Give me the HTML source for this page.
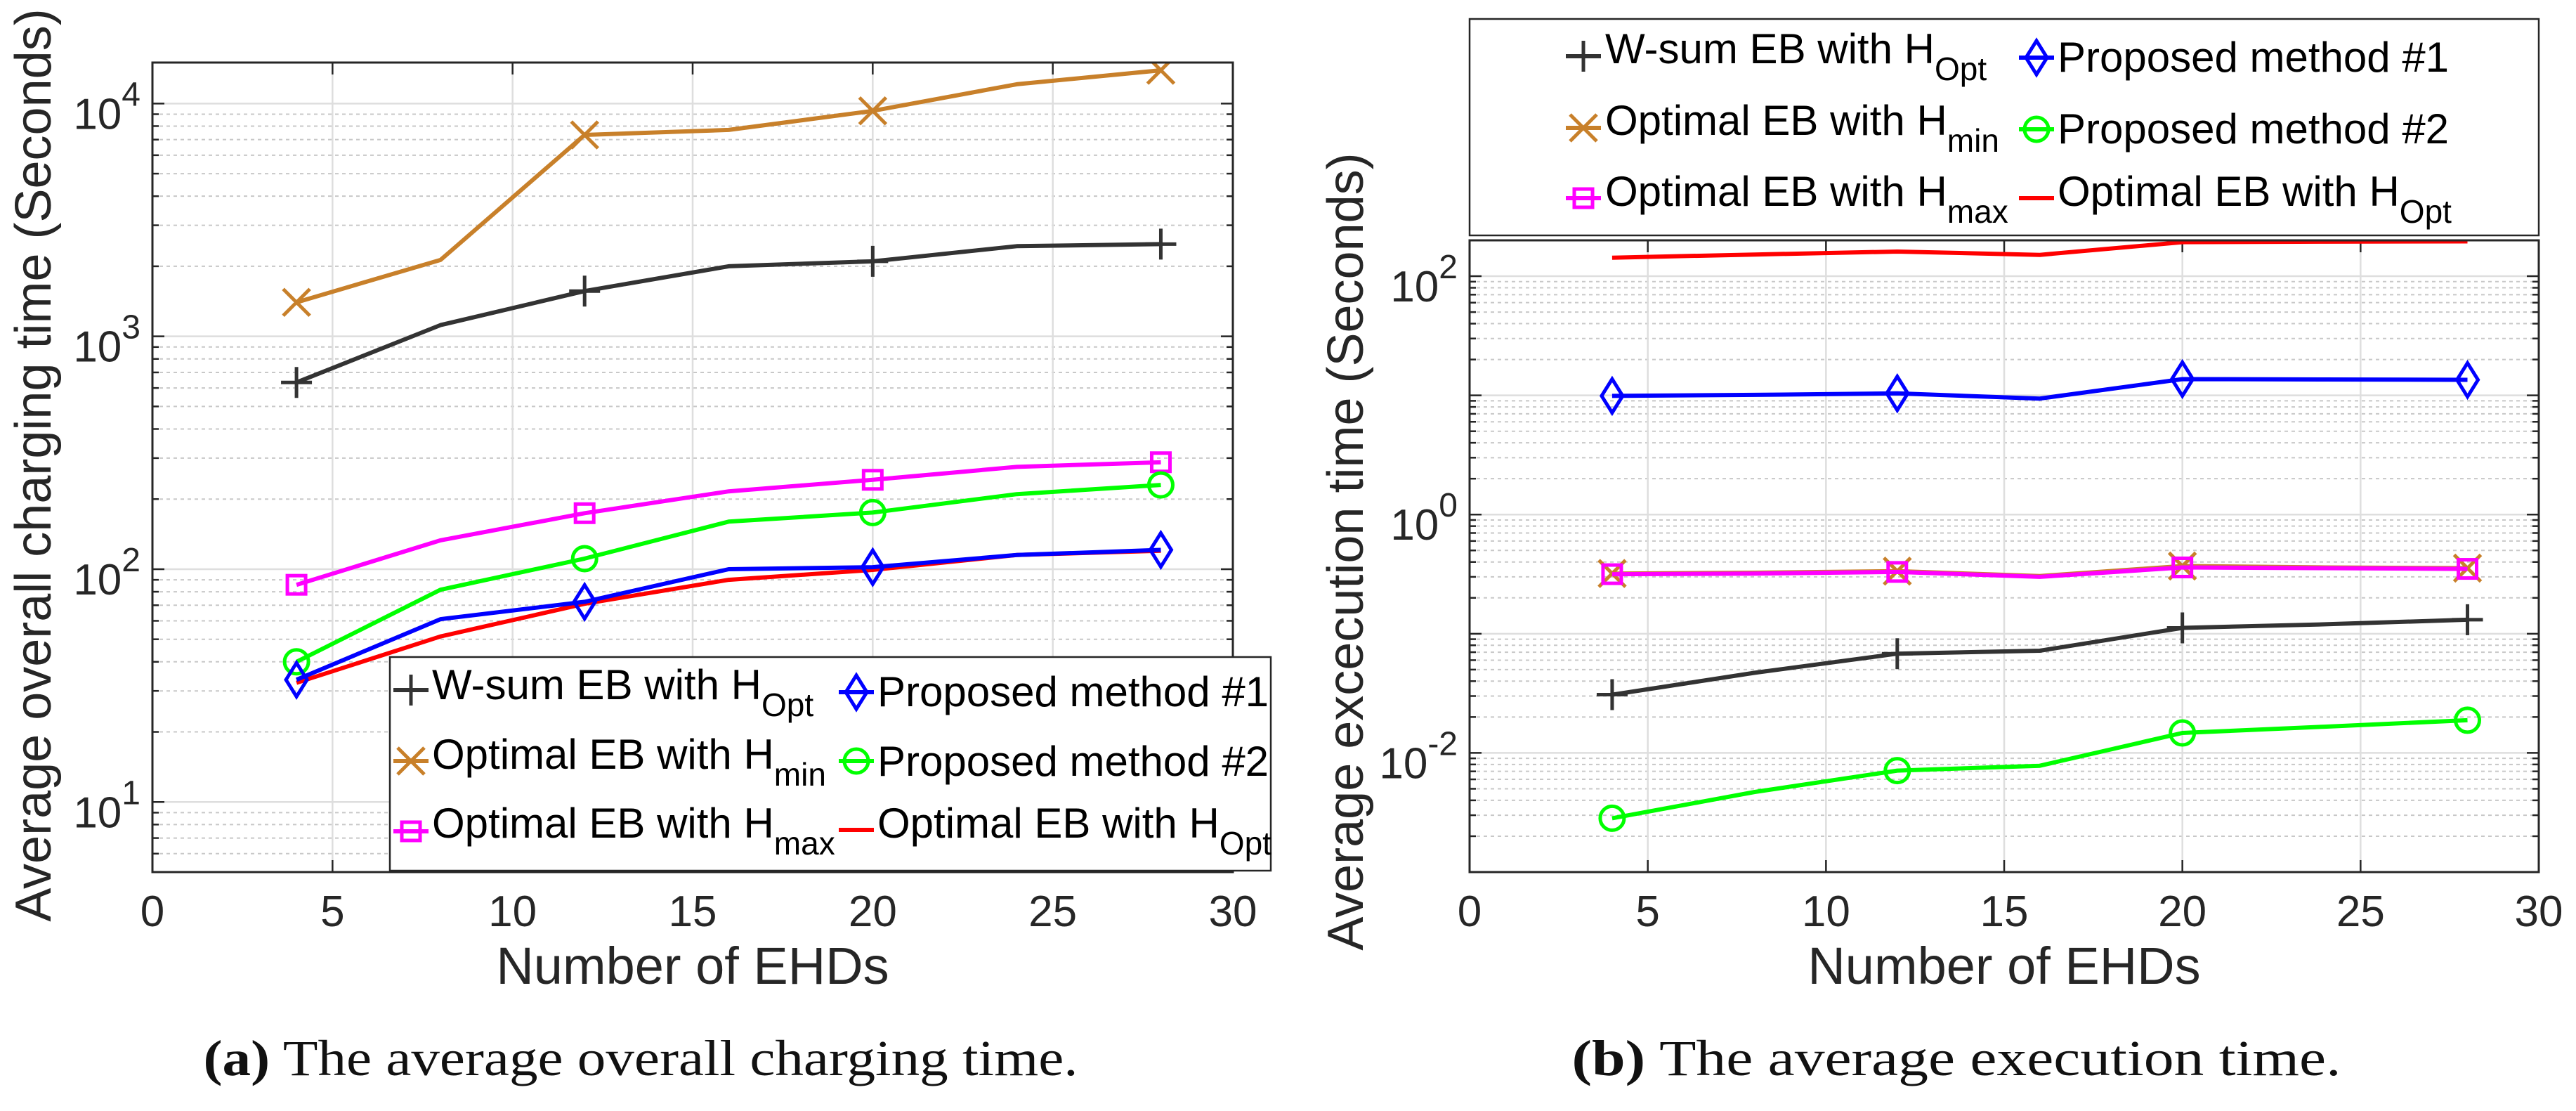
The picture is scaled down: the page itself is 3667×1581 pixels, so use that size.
<!DOCTYPE html>
<html><head><meta charset="utf-8">
<style>
html,body{margin:0;padding:0;background:#fff;}
svg{display:block;font-family:"Liberation Sans",sans-serif;}
</style></head>
<body>
<svg id="fig" width="3667" height="1581" viewBox="0 0 3667 1581" xmlns="http://www.w3.org/2000/svg"></svg>
<script>
const xValues = [4, 8, 12, 16, 20, 24, 28];
const xTicks = [0, 5, 10, 15, 20, 25, 30];
// Chart (a): average overall charging time
const aWsum = [634, 1118, 1565, 2000, 2100, 2440, 2490];
const aHmin = [1400, 2130, 7330, 7700, 9300, 12100, 13900];
const aHmax = [85.7, 133, 174, 216, 242, 275, 288];
const aProp1 = [33.5, 61, 72.4, 100, 102, 115, 121];
const aProp2 = [40, 81.6, 111, 160, 175, 210, 230];
const aHopt = [32.5, 51.4, 71, 90, 99.3, 115, 120];
const aDecades = [1, 2, 3, 4];
// Chart (b): average execution time
const bWsum = [0.0308, 0.047, 0.068, 0.072, 0.112, 0.12, 0.131];
const bHmin = [0.32, 0.325, 0.335, 0.305, 0.37, 0.36, 0.355];
const bHmax = [0.316, 0.32, 0.33, 0.30, 0.36, 0.355, 0.35];
const bProp1 = [9.9, 10.1, 10.4, 9.4, 13.7, 13.6, 13.5];
const bProp2 = [0.00283, 0.0047, 0.0071, 0.0078, 0.0147, 0.0166, 0.0188];
const bHopt = [143, 152, 161, 151, 193, 195, 196];
const bDecades = [-2, 0, 2];

const NS = "http://www.w3.org/2000/svg";
const svg = document.getElementById('fig');
function mk(tag, attrs, parent) {
  const e = document.createElementNS(NS, tag);
  for (const k in attrs) e.setAttribute(k, attrs[k]);
  (parent || svg).appendChild(e);
  return e;
}
const AX = '#262626';
const COL = {wsum:'#333333', hmin:'#c8802a', hmax:'#ff00ff', p1:'#0000ff', p2:'#00ff00', hopt:'#ff0000'};

function marker(g, type, cx, cy, color) {
  let e;
  if (type === 'plus') {
    e = mk('path', {d:`M${cx-22},${cy}H${cx+22}M${cx},${cy-22}V${cy+22}`, stroke:color, 'stroke-width':5, fill:'none'}, g);
  } else if (type === 'x') {
    e = mk('path', {d:`M${cx-19},${cy-19}L${cx+19},${cy+19}M${cx-19},${cy+19}L${cx+19},${cy-19}`, stroke:color, 'stroke-width':5, fill:'none'}, g);
  } else if (type === 'square') {
    e = mk('rect', {x:cx-13, y:cy-13, width:26, height:26, stroke:color, 'stroke-width':5, fill:'none'}, g);
  } else if (type === 'diamond') {
    e = mk('path', {d:`M${cx},${cy-24}L${cx+15},${cy}L${cx},${cy+24}L${cx-15},${cy}Z`, stroke:color, 'stroke-width':5, fill:'none'}, g);
  } else if (type === 'circle') {
    e = mk('circle', {cx:cx, cy:cy, r:17, stroke:color, 'stroke-width':5, fill:'none'}, g);
  }
  return e;
}

function buildChart(cfg) {
  const g = mk('g', {});
  
  
  const L = cfg.left, R = cfg.right, T = cfg.top, B = cfg.bottom;
  const lmin = Math.log10(cfg.ymin), lmax = Math.log10(cfg.ymax);
  const xs = v => L + (v - 0) / 30 * (R - L);
  const ys = v => B - (Math.log10(v) - lmin) / (lmax - lmin) * (B - T);

  // grid
  const grid = mk('g', {}, g);
  
  
  for (let d = Math.floor(lmin); d <= Math.ceil(lmax); d++) {
    for (let m = 1; m <= 9; m++) {
      const v = m * Math.pow(10, d);
      if (v < cfg.ymin * 0.999 || v > cfg.ymax * 1.001) continue;
      const y = ys(v);
      if (m === 1) {
        mk('line', {x1:L, x2:R, y1:y, y2:y, stroke:'#dedede', 'stroke-width':2.5}, grid);
        mk('line', {x1:L, x2:L+17, y1:y, y2:y, stroke:AX, 'stroke-width':2.5}, grid);
        mk('line', {x1:R-17, x2:R, y1:y, y2:y, stroke:AX, 'stroke-width':2.5}, grid);
      } else {
        mk('line', {x1:L, x2:R, y1:y, y2:y, stroke:'#c8c8c8', 'stroke-width':2, 'stroke-dasharray':'5,5'}, grid);
        mk('line', {x1:L, x2:L+9, y1:y, y2:y, stroke:AX, 'stroke-width':2.5}, grid);
        mk('line', {x1:R-9, x2:R, y1:y, y2:y, stroke:AX, 'stroke-width':2.5}, grid);
      }
    }
  }
  xTicks.forEach(t => {
    const x = xs(t);
    if (t > 0 && t < 30) mk('line', {x1:x, x2:x, y1:T, y2:B, stroke:'#dedede', 'stroke-width':2.5}, grid);
    mk('line', {x1:x, x2:x, y1:B-17, y2:B, stroke:AX, 'stroke-width':2.5}, grid);
    mk('line', {x1:x, x2:x, y1:T, y2:T+17, stroke:AX, 'stroke-width':2.5}, grid);
    const tl = mk('text', {x:x, y:B+77, 'font-size':62, 'text-anchor':'middle', fill:AX}, g);
    tl.textContent = t;
    
    
  });
  cfg.decades.forEach(d => {
    const y = ys(Math.pow(10, d));
    const tl = mk('text', {x:L-17, y:y+36, 'font-size':62, 'text-anchor':'end', fill:AX}, g);
    
    
    const b = mk('tspan', {}, tl); b.textContent = '10';
    const s = mk('tspan', {dy:-33, 'font-size':48}, tl); s.textContent = String(d).replace('-', '-');
  });

  // series
  const clip = 'clip-' + cfg.name;
  const cp = mk('clipPath', {id:clip}, g);
  mk('rect', {x:L, y:T, width:R-L, height:B-T}, cp);
  const sg = mk('g', {'clip-path':`url(#${clip})`}, g);
  cfg.series.forEach(s => {
    const sgg = mk('g', {}, sg);
    
    
    const pts = xValues.map((xv, i) => `${xs(xv).toFixed(1)},${ys(s.data[i]).toFixed(1)}`).join(' ');
    const pl = mk('polyline', {points:pts, fill:'none', stroke:s.color, 'stroke-width':6, 'stroke-linejoin':'round'}, sgg);
    
    
    if (s.marker) {
      xValues.forEach((xv, i) => {
        if (cfg.markerIdx.indexOf(i) < 0) return;
        const m = marker(sgg, s.marker, xs(xv), ys(s.data[i]), s.color);
        
        
      });
    }
  });

  // axes box
  const box = mk('rect', {x:L, y:T, width:R-L, height:B-T, fill:'none', stroke:AX, 'stroke-width':3}, g);
  
  

  const xt = mk('text', {x:(L+R)/2, y:1400, 'font-size':74, 'text-anchor':'middle', fill:AX}, g);
  xt.textContent = 'Number of EHDs';
  
  
  const yt = mk('text', {x:0, y:0, 'font-size':72, 'text-anchor':'middle', fill:AX, transform:`translate(${cfg.ytX},${cfg.ytY}) rotate(-90)`}, g);
  yt.textContent = cfg.ytitle;
  
  

  // legend
  const lg = mk('g', {}, g);
  
  
  const Lb = cfg.legend;
  mk('rect', {x:Lb.x, y:Lb.y, width:Lb.w, height:Lb.h, fill:'#fff', stroke:AX, 'stroke-width':2.5}, lg);
  const entries = [
    {key:'wsum', main:'W-sum EB with H', sub:'Opt', col:0, row:0, marker:'plus'},
    {key:'hmin', main:'Optimal EB with H', sub:'min', col:0, row:1, marker:'x'},
    {key:'hmax', main:'Optimal EB with H', sub:'max', col:0, row:2, marker:'square'},
    {key:'p1', main:'Proposed method #1', sub:'', col:1, row:0, marker:'diamond'},
    {key:'p2', main:'Proposed method #2', sub:'', col:1, row:1, marker:'circle'},
    {key:'hopt', main:'Optimal EB with H', sub:'Opt', col:1, row:2, marker:null}
  ];
  entries.forEach(en => {
    const eg = mk('g', {}, lg);
    
    
    const ix = Lb.iconX[en.col], tx = Lb.textX[en.col];
    const iy = Lb.iconY[en.row] + (en.col ? Lb.col2dy[en.row] : 0);
    const by = Lb.baseY[en.row] + (en.col ? Lb.col2db[en.row] : 0);
    mk('line', {x1:ix-25, x2:ix+25, y1:iy, y2:iy, stroke:COL[en.key], 'stroke-width':6}, eg);
    if (en.marker) marker(eg, en.marker, ix, iy, COL[en.key]);
    const t = mk('text', {x:tx, y:by, 'font-size':60, fill:'#000'}, eg);
    const a = mk('tspan', {}, t); a.textContent = en.main;
    if (en.sub) { const s = mk('tspan', {dy:24, 'font-size':46}, t); s.textContent = en.sub; }
  });

  // caption
  const cap = mk('text', {x:cfg.capX, y:1530, 'font-size':72, 'text-anchor':'middle', fill:'#111', 'font-family':'"Liberation Serif", serif', textLength:cfg.capLen, lengthAdjust:'spacingAndGlyphs'}, g);
  
  
  const cb = mk('tspan', {'font-weight':'bold'}, cap); cb.textContent = cfg.capBold;
  const cr = mk('tspan', {}, cap); cr.textContent = cfg.capText;
}

buildChart({
  name:'chart-a', left:217, right:1755, top:89, bottom:1241, ymin:5, ymax:15000,
  decades:aDecades, markerIdx:[0,2,4,6],
  series:[
    {key:'wsum', data:aWsum, color:COL.wsum, marker:'plus'},
    {key:'hmin', data:aHmin, color:COL.hmin, marker:'x'},
    {key:'hmax', data:aHmax, color:COL.hmax, marker:'square'},
    {key:'p2', data:aProp2, color:COL.p2, marker:'circle'},
    {key:'hopt', data:aHopt, color:COL.hopt, marker:null},
    {key:'p1', data:aProp1, color:COL.p1, marker:'diamond'}
  ],
  ytitle:'Average overall charging time (Seconds)', ytX:72, ytY:662,
  legend:{x:555, y:935, w:1254, h:304, iconX:[585,1219], textX:[615,1249],
    iconY:[982,1083,1183], baseY:[995,1094,1192], col2dy:[3,0,-2], col2db:[10,10,0]},
  capX:912, capLen:1245, capBold:'(a)', capText:' The average overall charging time.'
});

buildChart({
  name:'chart-b', left:2092, right:3614, top:342, bottom:1241, ymin:0.001, ymax:200,
  decades:bDecades, markerIdx:[0,2,4,6],
  series:[
    {key:'hopt', data:bHopt, color:COL.hopt, marker:null},
    {key:'p1', data:bProp1, color:COL.p1, marker:'diamond'},
    {key:'hmin', data:bHmin, color:COL.hmin, marker:'x'},
    {key:'hmax', data:bHmax, color:COL.hmax, marker:'square'},
    {key:'wsum', data:bWsum, color:COL.wsum, marker:'plus'},
    {key:'p2', data:bProp2, color:COL.p2, marker:'circle'}
  ],
  ytitle:'Average excecution time (Seconds)', ytX:1940, ytY:785,
  legend:{x:2092, y:27, w:1522, h:308, iconX:[2254,2899], textX:[2285,2929],
    iconY:[80,182,282], baseY:[90,192,293], col2dy:[2,2,0], col2db:[12,12,0]},
  capX:2785, capLen:1095, capBold:'(b)', capText:' The average execution time.'
});
</script>
</body></html>
